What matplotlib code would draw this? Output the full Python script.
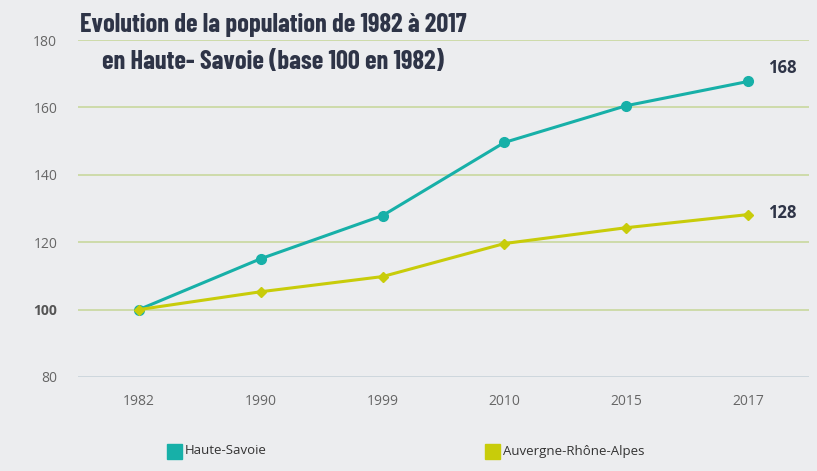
import matplotlib
matplotlib.use("Agg")
import matplotlib.pyplot as plt
from matplotlib.patches import Rectangle

years = ["1982", "1990", "1999", "2010", "2015", "2017"]
haute_savoie = [100, 115.1, 127.9, 149.6, 160.5, 167.7]
auvergne = [100, 105.3, 109.8, 119.6, 124.3, 128.2]
yticks = [80, 100, 120, 140, 160, 180]
end_labels = ["168", "128"]
series_names = ["Haute-Savoie", "Auvergne-Rhône-Alpes"]

BG = "#ecedef"
TEAL = "#17b0a8"
LIME = "#c8cc0a"
NAVY = "#2e3447"
GRID = "#c9d89e"

plt.rcParams['font.family'] = ['Open Sans', 'DejaVu Sans']

fig = plt.figure(figsize=(8.17, 4.71), dpi=100, facecolor=BG)
ax = fig.add_axes([78/817, 1-377/471, (809-78)/817, (377-40)/471])
ax.set_facecolor(BG)

x = list(range(len(years)))
ax.set_xlim(-0.5, len(years)-0.5)
ax.set_ylim(80, 180)

for t in yticks:
    col = "#c9d3da" if t == 80 else GRID
    ax.axhline(t, color=col, lw=1.2, zorder=1)

ax.plot(x, haute_savoie, color=TEAL, lw=2.2, marker='o', ms=7, zorder=3)
ax.plot(x, auvergne, color=LIME, lw=2.2, marker='D', ms=5.5, zorder=4)

for s in ax.spines.values():
    s.set_visible(False)
ax.set_xticks(x)
ax.set_xticklabels(years, fontsize=10, color="#666666")
ax.set_yticks(yticks)
ax.set_yticklabels([str(t) for t in yticks], fontsize=10, color="#666666")
for lbl in ax.get_yticklabels():
    if lbl.get_text() == "100":
        lbl.set_fontweight("bold")
        lbl.set_color("#555555")
ax.tick_params(axis='both', length=0)
ax.tick_params(axis='y', pad=15)
ax.tick_params(axis='x', pad=12)

ax.annotate(end_labels[0], (x[-1], haute_savoie[-1]), xytext=(14.5, 10), textcoords='offset points',
            fontsize=12, fontweight='bold', color=NAVY, ha='left', va='center')
ax.annotate(end_labels[1], (x[-1], auvergne[-1]), xytext=(14.5, 1), textcoords='offset points',
            fontsize=12, fontweight='bold', color=NAVY, ha='left', va='center')

title_fam = ['Barlow Condensed', 'DejaVu Sans']
fig.text(80/817, 1-25/471, "Evolution de la population de 1982 à 2017",
         fontsize=19, fontweight=700, color=NAVY,
         family=title_fam, ha='left', va='center')
fig.text(102/817, 1-62/471, "en Haute- Savoie (base 100 en 1982)",
         fontsize=19, fontweight=700, color=NAVY,
         family=title_fam, ha='left', va='center')

# legend
for xs, name, col in [(167, series_names[0], TEAL), (485, series_names[1], LIME)]:
    fig.patches.append(Rectangle((xs/817, 1-459/471), 15/817, 15/471, transform=fig.transFigure,
                                 color=col, zorder=5))
    fig.text((xs+18)/817, 1-451/471, name, fontsize=9.5, color="#333333", ha='left', va='center')

fig.savefig("out.png", dpi=100, facecolor=BG)
